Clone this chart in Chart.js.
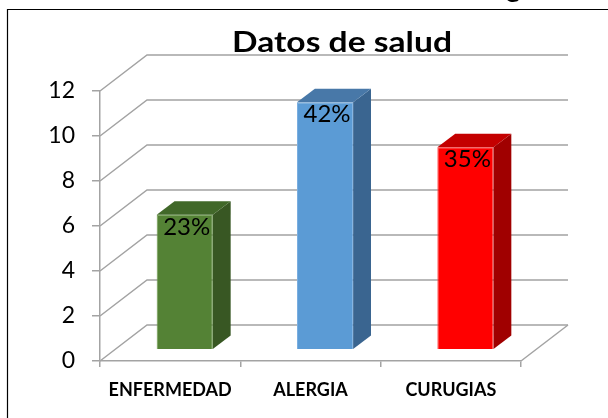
<!DOCTYPE html>
<html>
<head>
<meta charset="utf-8">
<script src="https://cdn.jsdelivr.net/npm/chart.js@4/dist/chart.umd.min.js"></script>
<style>
html,body{margin:0;padding:0;background:#fff;}
canvas{display:block;}
</style>
</head>
<body>
<canvas id="c" width="608" height="418"></canvas>
<script>
// ---- data ----
const categories = ['ENFERMEDAD', 'ALERGIA', 'CURUGIAS'];
const values = [6, 11, 9];
const yMin = 0, yMax = 12, yStep = 2;
const chartTitle = 'Datos de salud';

// ---- styles ----
const frontColors = ['#548235', '#5b9bd5', '#ff0000'];
const sideColors  = ['#385723', '#3a6590', '#a00000'];
const topColors   = ['#416829', '#4878a8', '#c40000'];
const edgeColors  = ['#6b9a4c', '#7aaee0', '#ff4040'];
const gridColor = '#a3a3a3';
const DEPTH = {x: 47, y: -36};   // wall depth vector
const FRONT = 0.31;               // bar front plane (fraction of depth)
const BAR_DEPTH = 0.38;           // bar thickness (fraction of depth)
const TITLE_WIDTH = 220;

const total = values.reduce((a, b) => a + b, 0);

const threeD = {
  id: 'threeD',
  beforeDraw(chart) {
    const ctx = chart.ctx;
    ctx.save();
    // outer frame (right/bottom edges lie outside the picture)
    ctx.strokeStyle = '#000';
    ctx.lineWidth = 1.2;
    ctx.beginPath();
    ctx.moveTo(7.5, 430);
    ctx.lineTo(7.5, 9.5);
    ctx.lineTo(640, 9.5);
    ctx.stroke();
    // clipped descender of text above the frame
    ctx.fillStyle = '#000';
    ctx.font = 'bold 28px Lato';
    ctx.textAlign = 'left';
    ctx.textBaseline = 'alphabetic';
    ctx.fillText('g', 506, -3);
    // title (horizontally stretched to the reference width)
    ctx.font = 'bold 28px Lato';
    ctx.textAlign = 'center';
    const w = ctx.measureText(chartTitle).width;
    ctx.translate(342, 52);
    ctx.scale(TITLE_WIDTH / w, 1);
    ctx.fillText(chartTitle, 0, 0);
    ctx.restore();
  },
  beforeDatasetsDraw(chart) {
    const ctx = chart.ctx;
    const a = chart.chartArea;
    const ys = chart.scales.y;
    ctx.save();
    ctx.strokeStyle = gridColor;
    ctx.lineWidth = 1.5;
    ctx.lineJoin = 'miter';
    ys.ticks.forEach(t => {
      const y = ys.getPixelForValue(t.value);
      ctx.beginPath();
      ctx.moveTo(a.left, y);
      ctx.lineTo(a.left + DEPTH.x, y + DEPTH.y);
      ctx.lineTo(a.right + DEPTH.x, y + DEPTH.y);
      ctx.stroke();
    });
    // right floor edge
    ctx.beginPath();
    ctx.moveTo(a.right, a.bottom);
    ctx.lineTo(a.right + DEPTH.x, a.bottom + DEPTH.y);
    ctx.stroke();
    ctx.restore();
    // shift bars into the middle of the depth
    ctx.save();
    ctx.translate(DEPTH.x * FRONT, DEPTH.y * FRONT);
  },
  afterDatasetsDraw(chart) {
    const ctx = chart.ctx;
    ctx.restore();
    const meta = chart.getDatasetMeta(0);
    const ox = DEPTH.x * FRONT, oy = DEPTH.y * FRONT;
    const bx = DEPTH.x * BAR_DEPTH, by = DEPTH.y * BAR_DEPTH;
    meta.data.forEach((bar, i) => {
      const p = bar.getProps(['x', 'y', 'base', 'width'], true);
      const l = p.x - p.width / 2 + ox, r = p.x + p.width / 2 + ox;
      const t = p.y + oy, b = p.base + oy;
      ctx.save();
      // side face
      ctx.fillStyle = sideColors[i];
      ctx.beginPath();
      ctx.moveTo(r, t);
      ctx.lineTo(r + bx, t + by);
      ctx.lineTo(r + bx, b + by);
      ctx.lineTo(r, b);
      ctx.closePath();
      ctx.fill();
      // top face
      ctx.fillStyle = topColors[i];
      ctx.beginPath();
      ctx.moveTo(l, t);
      ctx.lineTo(l + bx, t + by);
      ctx.lineTo(r + bx, t + by);
      ctx.lineTo(r, t);
      ctx.closePath();
      ctx.fill();
      // data label
      ctx.fillStyle = '#000';
      ctx.font = '24px Lato';
      ctx.textAlign = 'center';
      ctx.textBaseline = 'middle';
      ctx.fillText(Math.round(values[i] / total * 100) + '%', (l + r) / 2 + 2, t + 12);
      ctx.restore();
    });
  }
};

new Chart(document.getElementById('c'), {
  type: 'bar',
  data: {
    labels: categories,
    datasets: [{
      data: values,
      backgroundColor: frontColors,
      borderColor: edgeColors,
      borderWidth: 1,
      categoryPercentage: 1,
      barPercentage: 0.4,
      clip: false
    }]
  },
  options: {
    responsive: false,
    animation: false,
    events: [],
    layout: {padding: {left: 0, right: 87, top: 91, bottom: 0}},
    plugins: {legend: {display: false}, title: {display: false}, tooltip: {enabled: false}},
    scales: {
      x: {
        grid: {drawOnChartArea: false, color: gridColor, lineWidth: 1.5, tickLength: 6, offset: true},
        border: {color: gridColor, width: 1.5},
        ticks: {color: '#000', font: {family: 'Lato', size: 18, weight: 'bold'}, padding: 12, maxRotation: 0},
        afterFit(s) { s.height = 57; }
      },
      y: {
        min: yMin, max: yMax,
        grid: {drawOnChartArea: false, color: gridColor, lineWidth: 1.5, tickLength: 8},
        border: {color: gridColor, width: 1.5},
        ticks: {stepSize: yStep, color: '#000', font: {family: 'Lato', size: 23}, padding: 17},
        afterFit(s) { s.width = 100; }
      }
    }
  },
  plugins: [threeD]
});
</script>
</body>
</html>
